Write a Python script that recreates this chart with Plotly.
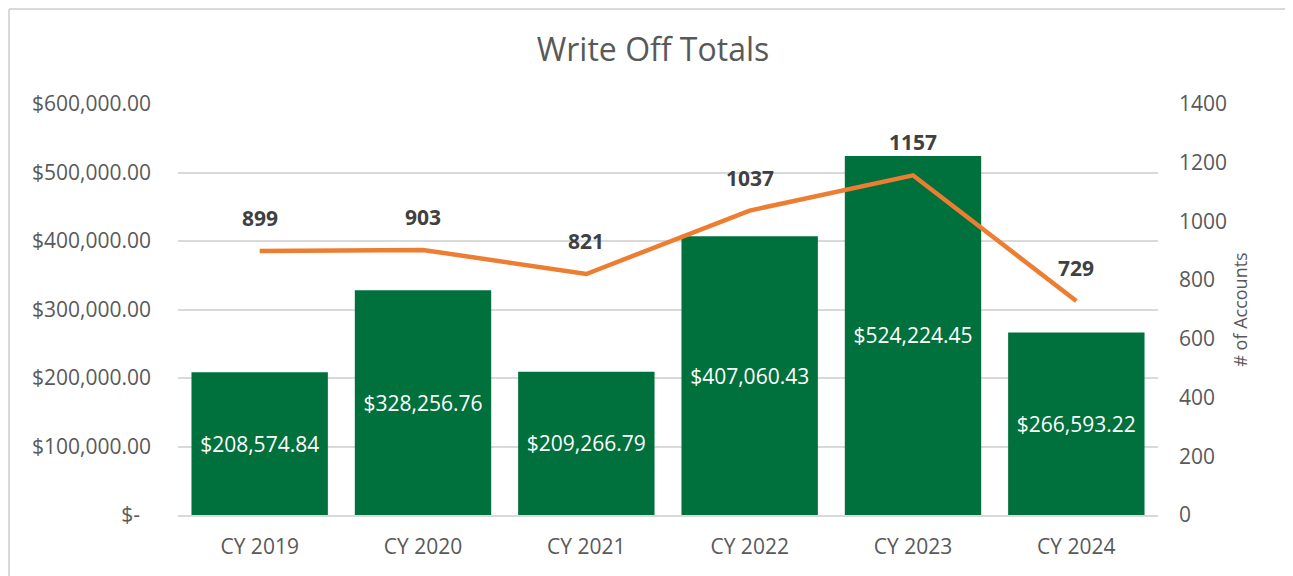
import plotly.graph_objects as go

categories = ["CY 2019", "CY 2020", "CY 2021", "CY 2022", "CY 2023", "CY 2024"]
write_off_totals = [208574.84, 328256.76, 209266.79, 407060.43, 524224.45, 266593.22]
accounts = [899, 903, 821, 1037, 1157, 729]
left_tick_vals = [0, 100000, 200000, 300000, 400000, 500000, 600000]
left_tick_text = ["$-  ", "$100,000.00", "$200,000.00", "$300,000.00", "$400,000.00", "$500,000.00", "$600,000.00"]
right_tick_vals = [0, 200, 400, 600, 800, 1000, 1200, 1400]

FONT = "Open Sans"
GRAY = "#595959"
W, H = 1285, 568
L, R, T, B = 170, 135, 96, 61
PW, PH = W - L - R, H - T - B

fig = go.Figure()
fig.add_trace(go.Bar(
    x=categories, y=write_off_totals,
    marker=dict(color="#00703C", line=dict(width=0)),
    text=[f"${v:,.2f}" for v in write_off_totals],
    textposition="inside", insidetextanchor="middle",
    textfont=dict(color="white", size=21, family=FONT),
    cliponaxis=False, showlegend=False,
))
fig.add_trace(go.Scatter(
    x=categories, y=accounts, yaxis="y2", mode="lines",
    line=dict(color="#ED7D31", width=4.5), showlegend=False,
))
for c, a in zip(categories, accounts):
    fig.add_annotation(x=c, y=a, yref="y2", text=f"<b>{a}</b>", showarrow=False,
                       yshift=33, font=dict(size=21, color="#404040", family=FONT))

fig.update_layout(
    width=W, height=H,
    paper_bgcolor="white", plot_bgcolor="white",
    margin=dict(l=L, r=R, t=T, b=B),
    bargap=0.165,
    title=dict(text="Write Off Totals", x=(653 - 8 - L) / PW, xref="paper", xanchor="center",
               y=1 - 42 / H, yanchor="middle",
               font=dict(size=32, color=GRAY, family=FONT)),
    xaxis=dict(tickfont=dict(size=21, color=GRAY, family=FONT), showgrid=False,
               showline=True, linecolor="#D9D9D9", linewidth=1.5, ticks="",
               ticklabelstandoff=12),
    yaxis=dict(range=[0, 600000], tickvals=left_tick_vals, ticktext=left_tick_text,
               tickfont=dict(size=21, color=GRAY, family=FONT), showgrid=True,
               gridcolor="#D9D9D9", gridwidth=1.5, zeroline=False, ticks="",
               ticklabelstandoff=26),
    yaxis2=dict(range=[0, 1400], tickvals=right_tick_vals, overlaying="y", side="right",
                tickfont=dict(size=21, color=GRAY, family=FONT), showgrid=False, zeroline=False,
                ticks="", ticklabelstandoff=20,
                title=dict(text="# of Accounts", font=dict(size=18, color=GRAY, family=FONT), standoff=8)),
    shapes=[
        dict(type="line", xref="paper", yref="paper",
             x0=(1 - L) / PW, x1=(W - L) / PW, y0=(H - B - 1) / PH, y1=(H - B - 1) / PH,
             line=dict(color="#D9D9D9", width=2), layer="below"),
        dict(type="line", xref="paper", yref="paper",
             x0=(1 - L) / PW, x1=(1 - L) / PW, y0=-B / PH, y1=(H - B - 1) / PH,
             line=dict(color="#D9D9D9", width=2), layer="below"),
    ],
)

fig.write_html("out.html")
